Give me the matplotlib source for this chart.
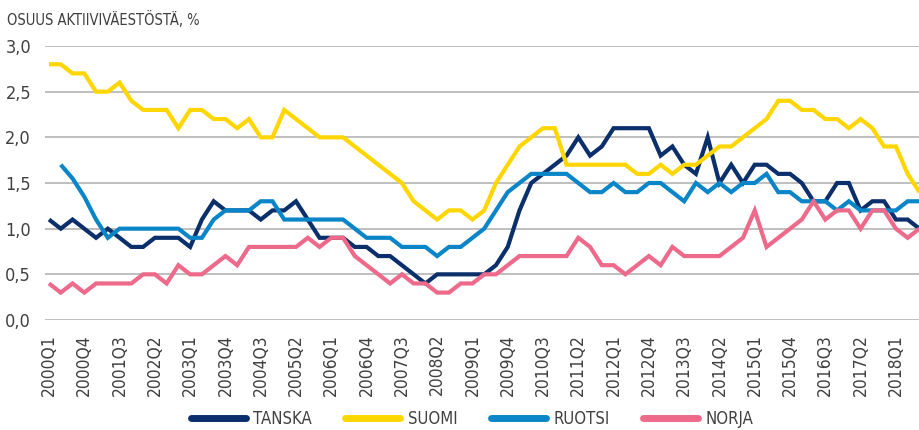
import numpy as np
import matplotlib
matplotlib.use("Agg")
import matplotlib.pyplot as plt

quarters = [f"{y}Q{q}" for y in range(2000, 2019) for q in range(1, 5)][:75]

tanska = [1.1, 1.0, 1.1, 1.0, 0.9, 1.0, 0.9, 0.8, 0.8, 0.9, 0.9, 0.9, 0.8, 1.1, 1.3, 1.2, 1.2, 1.2, 1.1, 1.2,
          1.2, 1.3, 1.1, 0.9,
          0.9, 0.9, 0.8, 0.8, 0.7, 0.7, 0.6, 0.5, 0.4, 0.5, 0.5, 0.5, 0.5, 0.5, 0.6, 0.8, 1.2, 1.5, 1.6, 1.7,
          1.8, 2.0, 1.8, 1.9, 2.1,
          2.1, 2.1, 2.1, 1.8, 1.9, 1.7, 1.6, 2.0, 1.5, 1.7, 1.5, 1.7, 1.7, 1.6, 1.6, 1.5, 1.3, 1.3, 1.5, 1.5,
          1.2, 1.3, 1.3, 1.1, 1.1, 1.0]

suomi = [2.8, 2.8, 2.7, 2.7, 2.5, 2.5, 2.6, 2.4, 2.3, 2.3, 2.3, 2.1, 2.3, 2.3, 2.2, 2.2, 2.1, 2.2, 2.0, 2.0,
         2.3, 2.2, 2.1, 2.0,
         2.0, 2.0, 1.9, 1.8, 1.7, 1.6, 1.5, 1.3, 1.2, 1.1, 1.2, 1.2, 1.1, 1.2, 1.5, 1.7, 1.9, 2.0, 2.1, 2.1,
         1.7, 1.7, 1.7, 1.7, 1.7,
         1.7, 1.6, 1.6, 1.7, 1.6, 1.7, 1.7, 1.8, 1.9, 1.9, 2.0, 2.1, 2.2, 2.4, 2.4, 2.3, 2.3, 2.2, 2.2, 2.1,
         2.2, 2.1, 1.9, 1.9, 1.6, 1.4]

ruotsi = [np.nan, 1.7, 1.55, 1.35, 1.1, 0.9, 1.0, 1.0, 1.0, 1.0, 1.0, 1.0, 0.9, 0.9, 1.1, 1.2, 1.2, 1.2, 1.3, 1.3,
          1.1, 1.1, 1.1, 1.1,
          1.1, 1.1, 1.0, 0.9, 0.9, 0.9, 0.8, 0.8, 0.8, 0.7, 0.8, 0.8, 0.9, 1.0, 1.2, 1.4, 1.5, 1.6, 1.6, 1.6,
          1.6, 1.5, 1.4, 1.4, 1.5,
          1.4, 1.4, 1.5, 1.5, 1.4, 1.3, 1.5, 1.4, 1.5, 1.4, 1.5, 1.5, 1.6, 1.4, 1.4, 1.3, 1.3, 1.3, 1.2, 1.3,
          1.2, 1.2, 1.2, 1.2, 1.3, 1.3]

norja = [0.4, 0.3, 0.4, 0.3, 0.4, 0.4, 0.4, 0.4, 0.5, 0.5, 0.4, 0.6, 0.5, 0.5, 0.6, 0.7, 0.6, 0.8, 0.8, 0.8,
         0.8, 0.8, 0.9, 0.8,
         0.9, 0.9, 0.7, 0.6, 0.5, 0.4, 0.5, 0.4, 0.4, 0.3, 0.3, 0.4, 0.4, 0.5, 0.5, 0.6, 0.7, 0.7, 0.7, 0.7,
         0.7, 0.9, 0.8, 0.6, 0.6,
         0.5, 0.6, 0.7, 0.6, 0.8, 0.7, 0.7, 0.7, 0.7, 0.8, 0.9, 1.2, 0.8, 0.9, 1.0, 1.1, 1.3, 1.1, 1.2, 1.2,
         1.0, 1.2, 1.2, 1.0, 0.9, 1.0]

tick_labels = ["2000Q1", "2000Q4", "2001Q3", "2002Q2", "2003Q1", "2003Q4", "2004Q3", "2005Q2", "2006Q1",
               "2006Q4", "2007Q3", "2008Q2", "2009Q1", "2009Q4", "2010Q3", "2011Q2", "2012Q1", "2012Q4",
               "2013Q3", "2014Q2", "2015Q1", "2015Q4", "2016Q3", "2017Q2", "2018Q1"]
y_ticks = [0.0, 0.5, 1.0, 1.5, 2.0, 2.5, 3.0]
series_names = ["TANSKA", "SUOMI", "RUOTSI", "NORJA"]
colors = ["#0b2f6b", "#ffd600", "#0a86c8", "#ee6a8a"]

FONT = ["Liberation Sans Narrow", "DejaVu Sans"]
plt.rcParams["font.family"] = FONT
plt.rcParams["font.stretch"] = "condensed"
TXT = "#404040"

fig = plt.figure(figsize=(9.2, 4.3), dpi=100)
ax = fig.add_axes([45 / 920, 1 - 320 / 430, 1 - 45 / 920, (320 - 46) / 430])

x = np.arange(len(quarters))
for name, vals, c in zip(series_names, [tanska, suomi, ruotsi, norja], colors):
    ax.plot(x, vals, color=c, lw=3.0, label=name, solid_joinstyle="miter", solid_capstyle="butt")

ax.set_ylim(0, 3.0)
ax.set_xlim(-0.34, 74.05)
ax.set_yticks(y_ticks)
ax.set_yticklabels([f"{v:.1f}".replace(".", ",") for v in y_ticks], fontsize=13, color=TXT)
ax.set_xticks([quarters.index(t) for t in tick_labels])
ax.set_xticklabels(tick_labels, rotation=90, fontsize=12.5, color=TXT)
ax.tick_params(axis="both", length=0)
ax.tick_params(axis="y", pad=10)
ax.tick_params(axis="x", pad=10)
ax.grid(axis="y", color="#b4b4b4", lw=1.2)
ax.set_axisbelow(True)
for s in ax.spines.values():
    s.set_visible(False)

fig.text(7 / 920, 1 - 19 / 430, "OSUUS AKTIIVIVÄESTÖSTÄ, %", fontsize=10.5, color=TXT, va="center", ha="left")

leg = fig.legend(loc="center", bbox_to_anchor=(0.513, 1 - 419 / 430), ncol=4, frameon=False,
                 fontsize=12, handlelength=3.3, columnspacing=2.0, handletextpad=0.45)
for t in leg.get_texts():
    t.set_color(TXT)
for h in leg.get_lines():
    h.set_linewidth(5)
    h.set_solid_capstyle("round")

fig.savefig("out.png", dpi=100)
